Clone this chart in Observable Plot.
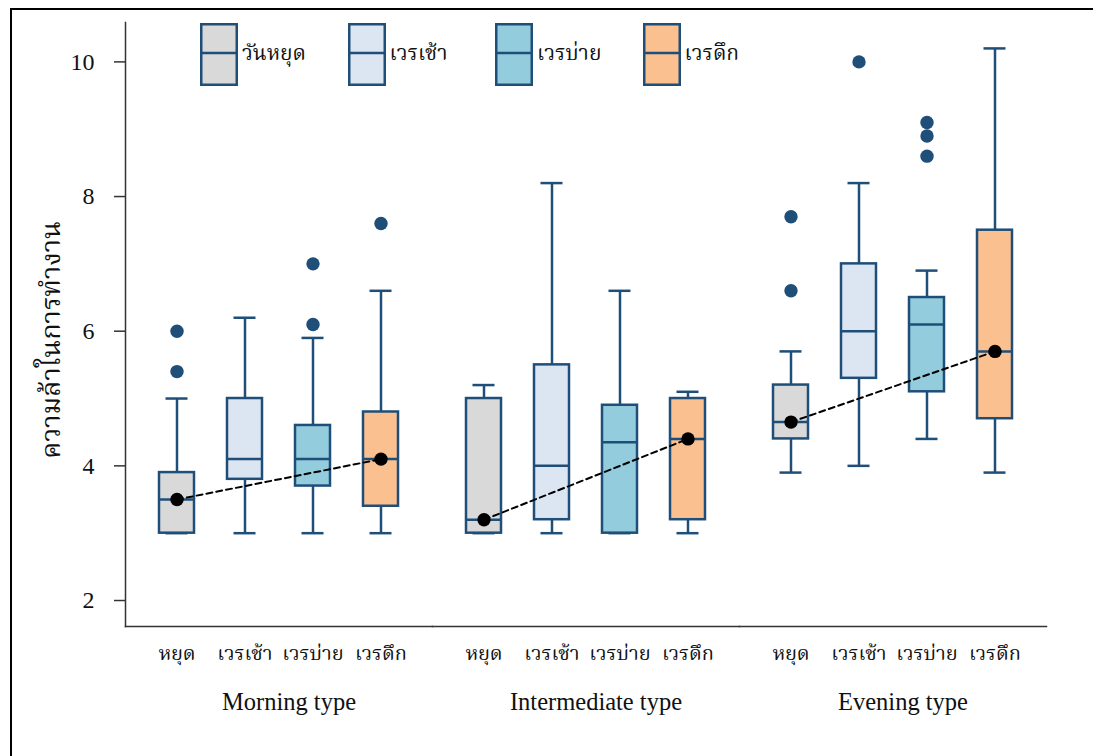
<!DOCTYPE html>
<html>
<head>
<meta charset="utf-8">
<script src="https://cdn.jsdelivr.net/npm/d3@7"></script>
<script src="https://cdn.jsdelivr.net/npm/@observablehq/plot@0.6"></script>
<style>
  html, body { margin: 0; padding: 0; background: #fff; }
  body { width: 1093px; height: 756px; position: relative; overflow: hidden;
         font-family: "Liberation Serif", "Noto Serif Thai", "Noto Sans Thai", serif; color: #111; }
  #frame { position: absolute; left: 10px; top: 8px; width: 1200px; height: 800px;
           border: 2px solid #000; box-sizing: border-box; }
  #chart { position: absolute; left: 0; top: 0; }
  #ytitle { position: absolute; left: 52px; top: 340px; transform: translate(-50%, -50%) rotate(-90deg);
            font-size: 27px; white-space: nowrap; }
  #legend { position: absolute; left: 200px; top: 23px; display: flex; }
  .item { width: 147.5px; display: flex; align-items: center; }
  .item svg { display: block; }
  .item span { font-size: 21px; margin-left: 4px; }
</style>
</head>
<body>
<div id="frame"></div>
<div id="chart"></div>
<div id="ytitle">ความล้าในการทำงาน</div>
<div id="legend"></div>
<script>
// Chronotype groups and work shifts
const groups = ["Morning type", "Intermediate type", "Evening type"];
const shifts = ["หยุด", "เวรเช้า", "เวรบ่าย", "เวรดึก"];
const legendNames = ["วันหยุด", "เวรเช้า", "เวรบ่าย", "เวรดึก"];
const fills = ["#d9d9d9", "#dce6f2", "#93cddd", "#fac090"];

// Box-plot summaries per group (rows) and shift (columns)
const whiskerLow  = [[3.0, 3.0, 3.0, 3.0], [3.0, 3.0, 3.0, 3.0], [3.9, 4.0, 4.4, 3.9]];
const q1          = [[3.0, 3.8, 3.7, 3.4], [3.0, 3.2, 3.0, 3.2], [4.4, 5.3, 5.1, 4.7]];
const median      = [[3.5, 4.1, 4.1, 4.1], [3.2, 4.0, 4.35, 4.4], [4.65, 6.0, 6.1, 5.7]];
const q3          = [[3.9, 5.0, 4.6, 4.8], [5.0, 5.5, 4.9, 5.0], [5.2, 7.0, 6.5, 7.5]];
const whiskerHigh = [[5.0, 6.2, 5.9, 6.6], [5.2, 8.2, 6.6, 5.1], [5.7, 8.2, 6.9, 10.2]];
const outliers = [
  [[6.0, 5.4], [], [7.0, 6.1], [7.6]],
  [[], [], [], []],
  [[7.7, 6.6], [10.0], [9.1, 8.9, 8.6], []]
];
// Shifts joined by the dashed trend line in each group
const trendShifts = ["หยุด", "เวรดึก"];
const yTicks = [2, 4, 6, 8, 10];

const boxes = groups.flatMap((g, i) => shifts.map((s, j) => ({
  group: g, shift: s,
  low: whiskerLow[i][j], q1: q1[i][j], median: median[i][j], q3: q3[i][j], high: whiskerHigh[i][j]
})));
const outlierRows = groups.flatMap((g, i) => shifts.flatMap((s, j) =>
  outliers[i][j].map(v => ({group: g, shift: s, value: v}))));
const trend = boxes.filter(d => trendShifts.includes(d.shift));

const stroke = "#1f4e79";
const axisColor = "#333";

const plot = Plot.plot({
  width: 1093,
  height: 756,
  marginLeft: 124,
  marginRight: 47,
  marginTop: 22,
  marginBottom: 130,
  style: {fontFamily: "'Liberation Serif', 'Noto Serif Thai', 'Noto Sans Thai', serif", background: "transparent", color: "#111"},
  fx: {domain: groups, padding: 0, axis: null},
  x: {domain: shifts, padding: 0.49, axis: null},
  y: {domain: [1.614, 10.585], axis: null},
  color: {domain: shifts, range: fills},
  marks: [
    Plot.axisY({ticks: yTicks, tickSize: 11, tickPadding: 20, fontSize: 24, label: null, stroke: axisColor, strokeWidth: 1.5}),
    Plot.frame({anchor: "left", facetAnchor: "left", stroke: axisColor, strokeWidth: 1.5}),
    Plot.frame({anchor: "bottom", stroke: axisColor, strokeWidth: 1.5}),
    Plot.axisX({tickSize: 0, tickPadding: 19, fontSize: 20, label: null}),
    Plot.axisFx({anchor: "bottom", tickSize: 0, tickPadding: 66, fontSize: 24.5, label: null, dx: 10}),
    Plot.ruleX(boxes, {fx: "group", x: "shift", y1: "low", y2: "high", stroke, strokeWidth: 2.5}),
    Plot.tickY(boxes, {fx: "group", x: "shift", y: "low", stroke, strokeWidth: 2.5, insetLeft: 6.5, insetRight: 6.5}),
    Plot.tickY(boxes, {fx: "group", x: "shift", y: "high", stroke, strokeWidth: 2.5, insetLeft: 6.5, insetRight: 6.5}),
    Plot.barY(boxes, {fx: "group", x: "shift", y1: "q1", y2: "q3", fill: "shift", stroke, strokeWidth: 2.5}),
    Plot.tickY(boxes, {fx: "group", x: "shift", y: "median", stroke, strokeWidth: 2.5}),
    Plot.dot(outlierRows, {fx: "group", x: "shift", y: "value", r: 6.7, fill: stroke, stroke: "none"}),
    Plot.line(trend, {fx: "group", x: "shift", y: "median", z: "group", stroke: "#000", strokeWidth: 2, strokeDasharray: "6,4"}),
    Plot.dot(trend, {fx: "group", x: "shift", y: "median", r: 6.7, fill: "#000", stroke: "none"})
  ]
});
document.getElementById("chart").appendChild(plot);

// Legend: a small box glyph beside each shift name
const legend = document.getElementById("legend");
legendNames.forEach((name, i) => {
  const item = document.createElement("div");
  item.className = "item";
  item.innerHTML = `<svg width="38" height="63"><rect x="1.25" y="1.25" width="35.5" height="60.5" fill="${fills[i]}" stroke="${stroke}" stroke-width="2.5"/><line x1="1.25" x2="36.75" y1="30" y2="30" stroke="${stroke}" stroke-width="2.5"/></svg><span>${name}</span>`;
  legend.appendChild(item);
});
</script>
</body>
</html>
